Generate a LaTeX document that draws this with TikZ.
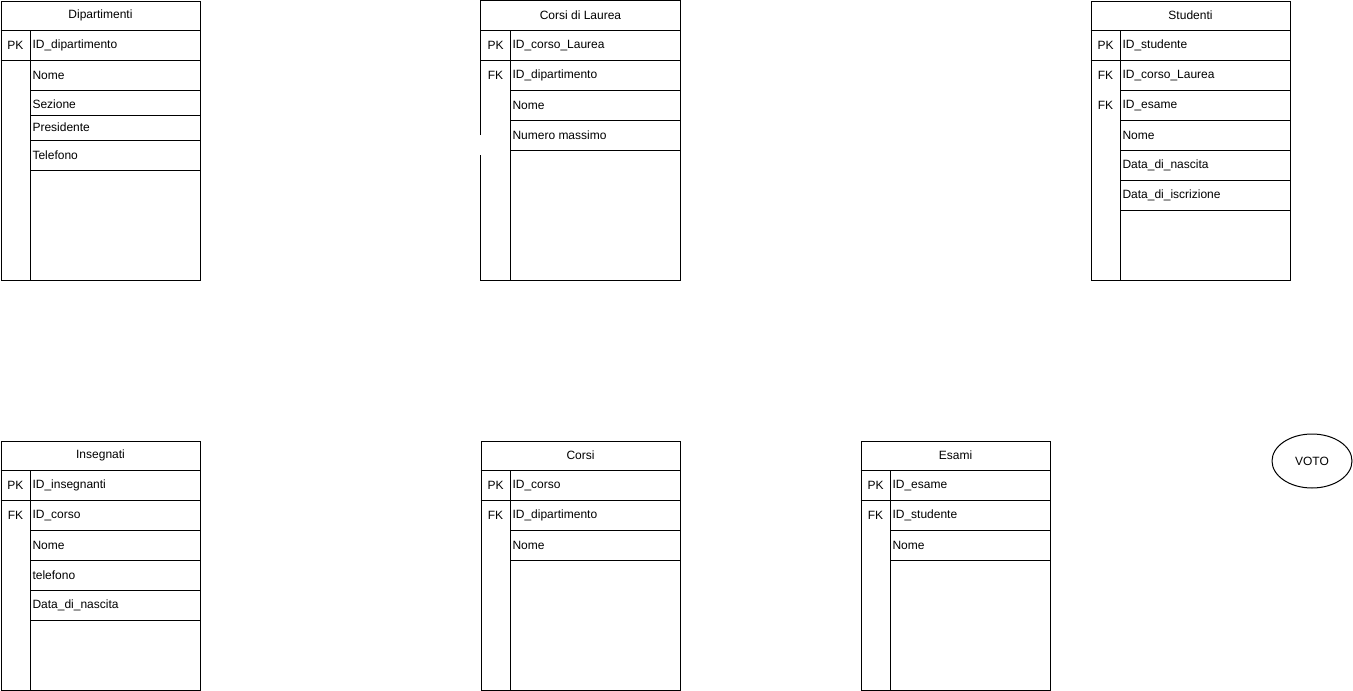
\documentclass[tikz,border=0pt]{standalone}
\usepackage{fontspec}
\setmainfont{Liberation Sans}
\usetikzlibrary{shapes.geometric}
\begin{document}
\begin{tikzpicture}[x=1pt,y=-1pt,line width=1pt,
  every node/.style={font=\fontsize{12}{14}\selectfont,inner sep=0pt},
  tablebox/.style={draw,rectangle,anchor=north west},
  field/.style={anchor=west},
  keytag/.style={anchor=center},
  tabtitle/.style={anchor=center},
  rel/.style={draw,ellipse,minimum width=80pt,minimum height=54pt}]
\useasboundingbox (0,0) rectangle (1353,691);

% ---------- Dipartimenti ----------
\node[tablebox,minimum width=199.5pt,minimum height=279.5pt] (dip) at (0.5,0.5) {};
\node[tabtitle] (dipT) at (100.5,15.5) {Dipartimenti};
\draw (0.5,30.5) -- (200,30.5);
\draw (0.5,60.5) -- (200,60.5);
\foreach \yy in {90.5,115.5,140.5,170.5} \draw (30.5,\yy) -- (200,\yy);
\draw (30.5,30.5) -- (30.5,280);
\node[keytag] (dipK1) at (15.5,45.5) {PK};
\node[field] (dipF1) at (32,45.5) {ID\_dipartimento};
\node[field] (dipF2) at (32,75.5) {Nome};
\node[field] (dipF3) at (32,104) {Sezione};
\node[field] (dipF4) at (32,127.5) {Presidente};
\node[field] (dipF5) at (32,155) {Telefono};

% ---------- Corsi di Laurea ----------
\coordinate (cdlA) at (480.5,135);
\coordinate (cdlB) at (480.5,155);
\draw (cdlA) -- (480.5,0.5) -- (680,0.5) -- (680,280) -- (480.5,280) -- (cdlB);
\node[tabtitle] (cdlT) at (580.5,15.5) {Corsi di Laurea};
\draw (480.5,30.5) -- (680,30.5);
\draw (480.5,60.5) -- (680,60.5);
\foreach \yy in {90.5,120.5,150.5} \draw (510.5,\yy) -- (680,\yy);
\draw (510.5,30.5) -- (510.5,280);
\node[keytag] (cdlK1) at (495.5,45.5) {PK};
\node[keytag] (cdlK2) at (495.5,75.5) {FK};
\node[field] (cdlF1) at (512,45.5) {ID\_corso\_Laurea};
\node[field] (cdlF2) at (512,75.5) {ID\_dipartimento};
\node[field] (cdlF3) at (512,105.5) {Nome};
\node[field] (cdlF4) at (512,135.5) {Numero massimo};

% ---------- Studenti ----------
\node[tablebox,minimum width=199.5pt,minimum height=279.5pt] (stu) at (1090.5,0.5) {};
\node[tabtitle] (stuT) at (1190.5,15.5) {Studenti};
\draw (1090.5,30.5) -- (1290,30.5);
\draw (1090.5,60.5) -- (1290,60.5);
\foreach \yy in {90.5,120.5,150.5,180.5,210.5} \draw (1120.5,\yy) -- (1290,\yy);
\draw (1120.5,30.5) -- (1120.5,280);
\node[keytag] (stuK1) at (1105.5,45.5) {PK};
\node[keytag] (stuK2) at (1105.5,75.5) {FK};
\node[keytag] (stuK3) at (1105.5,105.5) {FK};
\node[field] (stuF1) at (1122,45.5) {ID\_studente};
\node[field] (stuF2) at (1122,75.5) {ID\_corso\_Laurea};
\node[field] (stuF3) at (1122,105.5) {ID\_esame};
\node[field] (stuF4) at (1122,135.5) {Nome};
\node[field] (stuF5) at (1122,165.5) {Data\_di\_nascita};
\node[field] (stuF6) at (1122,195.5) {Data\_di\_iscrizione};

% ---------- Insegnati ----------
\node[tablebox,minimum width=199.5pt,minimum height=249.5pt] (ins) at (0.5,440.5) {};
\node[tabtitle] (insT) at (100.5,455.5) {Insegnati};
\draw (0.5,470.5) -- (200,470.5);
\draw (0.5,500.5) -- (200,500.5);
\foreach \yy in {530.5,560.5,590.5,620.5} \draw (30.5,\yy) -- (200,\yy);
\draw (30.5,470.5) -- (30.5,690);
\node[keytag] (insK1) at (15.5,485.5) {PK};
\node[keytag] (insK2) at (15.5,515.5) {FK};
\node[field] (insF1) at (32,485.5) {ID\_insegnanti};
\node[field] (insF2) at (32,515.5) {ID\_corso};
\node[field] (insF3) at (32,545.5) {Nome};
\node[field] (insF4) at (32,575.5) {telefono};
\node[field] (insF5) at (32,605.5) {Data\_di\_nascita};

% ---------- Corsi ----------
\node[tablebox,minimum width=199.5pt,minimum height=249.5pt] (cor) at (480.5,440.5) {};
\node[tabtitle] (corT) at (580.5,455.5) {Corsi};
\draw (480.5,470.5) -- (680,470.5);
\draw (480.5,500.5) -- (680,500.5);
\foreach \yy in {530.5,560.5} \draw (510.5,\yy) -- (680,\yy);
\draw (510.5,470.5) -- (510.5,690);
\node[keytag] (corK1) at (495.5,485.5) {PK};
\node[keytag] (corK2) at (495.5,515.5) {FK};
\node[field] (corF1) at (512,485.5) {ID\_corso};
\node[field] (corF2) at (512,515.5) {ID\_dipartimento};
\node[field] (corF3) at (512,545.5) {Nome};

% ---------- Esami ----------
\node[tablebox,minimum width=189.5pt,minimum height=249.5pt] (esa) at (860.5,440.5) {};
\node[tabtitle] (esaT) at (955.5,455.5) {Esami};
\draw (860.5,470.5) -- (1050,470.5);
\draw (860.5,500.5) -- (1050,500.5);
\foreach \yy in {530.5,560.5} \draw (890.5,\yy) -- (1050,\yy);
\draw (890.5,470.5) -- (890.5,690);
\node[keytag] (esaK1) at (875.5,485.5) {PK};
\node[keytag] (esaK2) at (875.5,515.5) {FK};
\node[field] (esaF1) at (892,485.5) {ID\_esame};
\node[field] (esaF2) at (892,515.5) {ID\_studente};
\node[field] (esaF3) at (892,545.5) {Nome};

% ---------- VOTO ----------
\node[rel] (voto) at (1312,461) {VOTO};
\end{tikzpicture}
\end{document}
